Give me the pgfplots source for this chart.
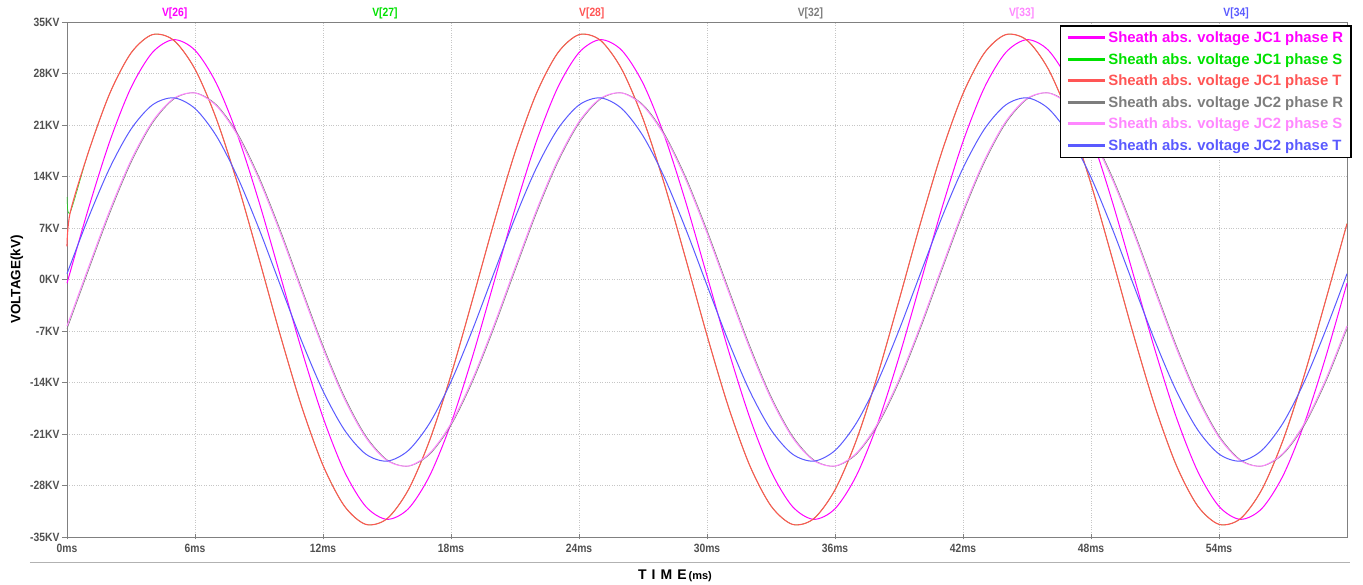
\documentclass[border=0pt]{standalone}
\usepackage{pgfplots}
\pgfplotsset{compat=1.18}
\usepackage{pgfplotstable}
\usepackage{fontspec}
\setmainfont{Liberation Sans}
\newfontfamily\narrowfont[FakeStretch=0.86]{Liberation Sans}

\definecolor{cR1}{RGB}{255,0,255}
\definecolor{cS1}{RGB}{0,225,0}
\definecolor{cT1}{RGB}{255,85,85}
\definecolor{cR2}{RGB}{125,125,125}
\definecolor{cS2}{RGB}{255,135,255}
\definecolor{cT2}{RGB}{90,90,255}
\definecolor{tickgray}{RGB}{80,80,80}

% sheath voltages [kV] vs time [ms]
\pgfplotstableread{
t     R1      S1      T1      R2      S2      T2
0     -0.51   11.20   4.50    -6.70   -6.32   0.78
0.15  1.02    9.10    9.10    -5.54   -5.15   1.94
1     9.59    17.27   17.27   1.20    1.59    8.37
2     18.74   25.26   25.26   8.98    9.35    15.14
3     26.07   30.78   30.78   15.88   16.19   20.43
4     30.84   33.28   33.28   21.23   21.45   23.72
5     32.60   32.52   32.52   24.50   24.60   24.69
6     31.16   28.59   28.59   25.37   25.35   23.24
7     26.67   21.85   21.85   23.76   23.62   19.52
8     19.57   12.98   12.98   19.82   19.57   13.88
9     10.56   2.83    2.83    13.94   13.61   6.89
10    0.51    -7.59   -7.59   6.70    6.32    -0.78
11    -9.59   -17.27  -17.27  -1.20   -1.59   -8.37
12    -18.74  -25.26  -25.26  -8.98   -9.35   -15.14
13    -26.07  -30.78  -30.78  -15.88  -16.19  -20.43
14    -30.84  -33.28  -33.28  -21.23  -21.45  -23.72
15    -32.60  -32.52  -32.52  -24.50  -24.60  -24.69
16    -31.16  -28.59  -28.59  -25.37  -25.35  -23.24
17    -26.67  -21.85  -21.85  -23.76  -23.62  -19.52
18    -19.57  -12.98  -12.98  -19.82  -19.57  -13.88
19    -10.56  -2.83   -2.83   -13.94  -13.61  -6.89
20    -0.51   7.59    7.59    -6.70   -6.32   0.78
21    9.59    17.27   17.27   1.20    1.59    8.37
22    18.74   25.26   25.26   8.98    9.35    15.14
23    26.07   30.78   30.78   15.88   16.19   20.43
24    30.84   33.28   33.28   21.23   21.45   23.72
25    32.60   32.52   32.52   24.50   24.60   24.69
26    31.16   28.59   28.59   25.37   25.35   23.24
27    26.67   21.85   21.85   23.76   23.62   19.52
28    19.57   12.98   12.98   19.82   19.57   13.88
29    10.56   2.83    2.83    13.94   13.61   6.89
30    0.51    -7.59   -7.59   6.70    6.32    -0.78
31    -9.59   -17.27  -17.27  -1.20   -1.59   -8.37
32    -18.74  -25.26  -25.26  -8.98   -9.35   -15.14
33    -26.07  -30.78  -30.78  -15.88  -16.19  -20.43
34    -30.84  -33.28  -33.28  -21.23  -21.45  -23.72
35    -32.60  -32.52  -32.52  -24.50  -24.60  -24.69
36    -31.16  -28.59  -28.59  -25.37  -25.35  -23.24
37    -26.67  -21.85  -21.85  -23.76  -23.62  -19.52
38    -19.57  -12.98  -12.98  -19.82  -19.57  -13.88
39    -10.56  -2.83   -2.83   -13.94  -13.61  -6.89
40    -0.51   7.59    7.59    -6.70   -6.32   0.78
41    9.59    17.27   17.27   1.20    1.59    8.37
42    18.74   25.26   25.26   8.98    9.35    15.14
43    26.07   30.78   30.78   15.88   16.19   20.43
44    30.84   33.28   33.28   21.23   21.45   23.72
45    32.60   32.52   32.52   24.50   24.60   24.69
46    31.16   28.59   28.59   25.37   25.35   23.24
47    26.67   21.85   21.85   23.76   23.62   19.52
48    19.57   12.98   12.98   19.82   19.57   13.88
49    10.56   2.83    2.83    13.94   13.61   6.89
50    0.51    -7.59   -7.59   6.70    6.32    -0.78
51    -9.59   -17.27  -17.27  -1.20   -1.59   -8.37
52    -18.74  -25.26  -25.26  -8.98   -9.35   -15.14
53    -26.07  -30.78  -30.78  -15.88  -16.19  -20.43
54    -30.84  -33.28  -33.28  -21.23  -21.45  -23.72
55    -32.60  -32.52  -32.52  -24.50  -24.60  -24.69
56    -31.16  -28.59  -28.59  -25.37  -25.35  -23.24
57    -26.67  -21.85  -21.85  -23.76  -23.62  -19.52
58    -19.57  -12.98  -12.98  -19.82  -19.57  -13.88
59    -10.56  -2.83   -2.83   -13.94  -13.61  -6.89
60    -0.51   7.59    7.59    -6.70   -6.32   0.78
}\sheath

\begin{document}
\begin{tikzpicture}
\begin{axis}[
    scale only axis,
    width=1280pt, height=515pt,
    xmin=0, xmax=60,
    ymin=-35, ymax=35,
    xtick={0,6,...,54},
    xticklabels={0ms,6ms,12ms,18ms,24ms,30ms,36ms,42ms,48ms,54ms},
    ytick={-35,-28,...,35},
    yticklabels={-35KV,-28KV,-21KV,-14KV,-7KV,0KV,7KV,14KV,21KV,28KV,35KV},
    xtick pos=bottom, ytick pos=left,
    xtick align=center, ytick align=outside,
    major tick length=5pt,
    tick style={gray, line width=0.6pt},
    ticklabel style={font=\narrowfont\bfseries\fontsize{12}{14}\selectfont, text=tickgray},
    yticklabel style={xshift=1pt},
    xticklabel style={yshift=-1pt},
    grid=major,
    major grid style={gray!45, dotted, line width=0.6pt},
    axis line style={gray, line width=0.7pt},
    clip=false,
    legend cell align=left,
    legend style={at={(1,1)}, anchor=north east, xshift=5pt, yshift=-3pt,
        draw=black, line width=1.6pt, fill=white,
        font=\bfseries\fontsize{14.9}{16.5}\selectfont,
        row sep=5.2pt, inner xsep=6pt, inner ysep=4pt},
    legend image code/.code={\draw[#1, line width=3pt] (0pt,0pt) -- (37pt,0pt);},
    every axis plot/.append style={line width=1pt, smooth},
]
\addplot[cR1] table[x=t, y=R1] {\sheath};
\addlegendentry[text=cR1]{Sheath abs. voltage JC1 phase R}
\addplot[cS1, line width=0.5pt] table[x=t, y=S1] {\sheath};
\addlegendentry[text=cS1]{Sheath abs. voltage JC1 phase S}
\addplot[cT1, line width=1.1pt] table[x=t, y=T1] {\sheath};
\addlegendentry[text=cT1]{Sheath abs. voltage JC1 phase T}
\addplot[cR2, line width=0.6pt] table[x=t, y=R2] {\sheath};
\addlegendentry[text=cR2]{Sheath abs. voltage JC2 phase R}
\addplot[cS2] table[x=t, y=S2] {\sheath};
\addlegendentry[text=cS2]{Sheath abs. voltage JC2 phase S}
\addplot[cT2] table[x=t, y=T2] {\sheath};
\addlegendentry[text=cT2]{Sheath abs. voltage JC2 phase T}

% trace names above the frame
\begin{scope}[every node/.style={anchor=south, font=\narrowfont\bfseries\fontsize{12}{14}\selectfont, inner sep=0pt, yshift=3pt}]
\node[text=cR1] at (axis cs:5.05,35) {V[26]};
\node[text=cS1] at (axis cs:14.9,35) {V[27]};
\node[text=cT1] at (axis cs:24.6,35) {V[28]};
\node[text=cR2] at (axis cs:34.85,35) {V[32]};
\node[text=cS2] at (axis cs:44.75,35) {V[33]};
\node[text=cT2] at (axis cs:54.8,35) {V[34]};
\end{scope}

\node[rotate=90, font=\bfseries\fontsize{13.5}{15}\selectfont] at ([xshift=-50pt]rel axis cs:0,0.5) {VOLTAGE(kV)};
\node[font=\bfseries\fontsize{14}{16}\selectfont] at ([xshift=-32pt, yshift=-39pt]rel axis cs:0.5,0) {T\hspace{5pt}I\hspace{5pt}M\hspace{5pt}E\hspace{2pt}{\fontsize{11}{13}\selectfont(ms)}};
\draw[gray!60, line width=0.6pt] ([shift={(-37pt,-25pt)}]rel axis cs:0,0) -- ([shift={(3pt,-25pt)}]rel axis cs:1,0);

\coordinate (lo) at (rel axis cs:0,0);
\coordinate (hi) at (rel axis cs:1,1);
\end{axis}
\pgfresetboundingbox
\path ([shift={(-67pt,-48pt)}]lo) rectangle ([shift={(16pt,22pt)}]hi);
\end{tikzpicture}
\end{document}
